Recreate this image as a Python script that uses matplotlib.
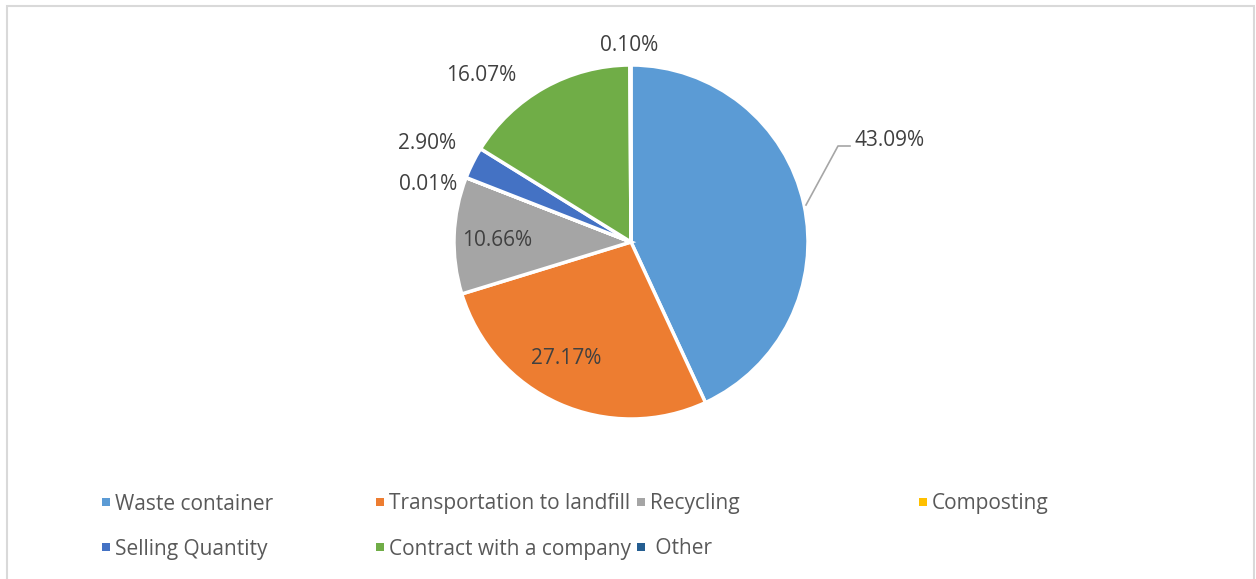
import matplotlib.pyplot as plt
from matplotlib.patches import Rectangle

# Data
categories = ['Waste container', 'Transportation to landfill', 'Recycling', 'Composting',
              'Selling Quantity', 'Contract with a company', 'Other']
shares = [43.09, 27.17, 10.66, 0.01, 2.90, 16.07, 0.10]
colors = ['#5B9BD5', '#ED7D31', '#A5A5A5', '#FFC000', '#4472C4', '#70AD47', '#255E91']

W, H = 1256, 579
fig = plt.figure(figsize=(W / 100, H / 100), dpi=100)
plt.rcParams['font.family'] = ['Open Sans', 'DejaVu Sans']
txt_color = '#404040'

# Chart frame
fig.patches.append(Rectangle((7 / W, -0.05), 1247 / W, 1.05 - 6 / H, transform=fig.transFigure,
                             fill=False, edgecolor='#D9D9D9', linewidth=1.5))

# Pie axes: centre (631, 242) px, radius 177 px
cx, cy, r = 631, 242, 177
ax = fig.add_axes([(cx - r) / W, (H - cy - r) / H, 2 * r / W, 2 * r / H])
ax.pie(shares, colors=colors, startangle=90, counterclock=False,
       wedgeprops=dict(edgecolor='white', linewidth=2.5))
ax.set_xlim(-1, 1)
ax.set_ylim(-1, 1)
ax.set_aspect('equal')
ax.set_axis_off()

# Label positions in pixels (label centres)
label_px = [(890, 140), (566, 359), (497, 240), (428, 184), (427, 143), (481, 75), (629, 45)]
for val, (px, py) in zip(shares, label_px):
    ax.text((px - cx) / r, (cy - py) / r, f'{val:.2f}%', ha='center', va='center',
            fontsize=15, color=txt_color, clip_on=False)

# Leader line for the biggest slice
lx = [(806 - cx) / r, (838 - cx) / r, (850 - cx) / r]
ly = [(cy - 205) / r, (cy - 146) / r, (cy - 146) / r]
ax.plot(lx, ly, color='#A6A6A6', linewidth=1.2, clip_on=False)

# Legend (placed like the original)
leg_pos = [(102, 502), (376, 502), (637, 502), (919, 502),
           (102, 547), (376, 547), (637, 547)]
for (lxp, lyp), name, c in zip(leg_pos, categories, colors):
    s = 8
    fig.patches.append(Rectangle((lxp / W, (H - lyp - s / 2) / H), s / W, s / H,
                                 transform=fig.transFigure, facecolor=c, edgecolor='none'))
    label = name if name != 'Other' else ' ' + name
    fig.text((lxp + 13) / W, (H - lyp - 2) / H, label, ha='left', va='center',
             fontsize=15, color='#595959')

fig.savefig('out.png', dpi=100)
